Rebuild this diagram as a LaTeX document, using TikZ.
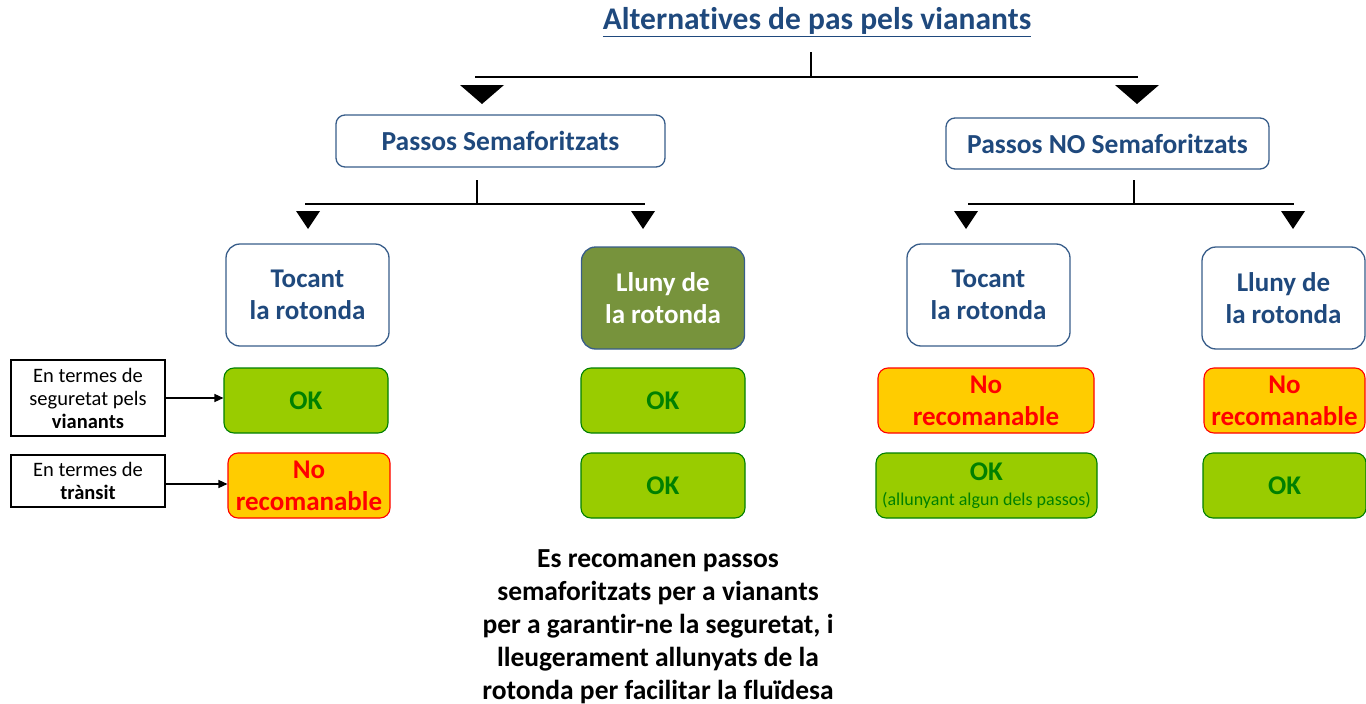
\documentclass[tikz,border=0pt]{standalone}
\usepackage{fontspec}
\setmainfont{Carlito}[Ligatures=NoCommon]
\usetikzlibrary{arrows.meta}
\definecolor{tblue}{HTML}{1F497D}
\definecolor{bord}{HTML}{385D8A}
\definecolor{olivebox}{HTML}{77933C}
\definecolor{okfill}{HTML}{99CC00}
\definecolor{okdark}{HTML}{008000}
\definecolor{nofill}{HTML}{FFCC00}
\definecolor{noborder}{HTML}{FF0000}
\tikzset{
  catbox/.style={draw=bord, line width=1.3pt, fill=white, rounded corners=9pt, inner sep=0pt,
    font=\fontsize{27.5}{32}\selectfont\bfseries, text=tblue, align=center},
  subbox/.style={draw=bord, line width=1.3pt, fill=white, rounded corners=14pt, inner sep=0pt,
    minimum width=163pt, minimum height=102pt,
    font=\fontsize{27}{32}\selectfont\bfseries, text=tblue, align=center},
  okbox/.style={draw=okdark, line width=1.1pt, fill=okfill, rounded corners=10pt, inner sep=0pt,
    minimum height=65pt, font=\fontsize{27}{32}\selectfont\bfseries, text=okdark, align=center},
  nobox/.style={draw=noborder, line width=1.1pt, fill=nofill, rounded corners=10pt, inner sep=0pt,
    minimum height=65pt, font=\fontsize{27}{32}\selectfont\bfseries, text=noborder, align=center},
  labbox/.style={draw=black, line width=1.2pt, fill=white, inner sep=0pt, minimum width=154pt,
    font=\fontsize{20.5}{23}\selectfont, align=center},
  bline/.style={line width=2.6pt, black},
  tri/.style={fill=black},
  arr/.style={line width=1.3pt, -{Triangle[length=9pt,width=8pt]}}
}
\begin{document}
\begin{tikzpicture}[x=1pt,y=-1pt]
\useasboundingbox (0,0) rectangle (1366,704);

% title
\node[font=\fontsize{31.5}{36}\selectfont\bfseries, text=tblue] (title) at (817,22) {\underline{Alternatives de pas pels vianants}};

% top bracket
\coordinate (t0) at (811,52);
\coordinate (t1) at (811,77);
\coordinate (tl) at (475,77);
\coordinate (tr) at (1138,77);
\draw[bline] (t0) -- (t1);
\draw[bline] (tl) -- (tr);
\fill[tri] (460,85) -- (504,85) -- (482,104) -- cycle;
\fill[tri] (1115,85) -- (1159,85) -- (1137,104) -- cycle;

% category boxes
\node[catbox, minimum width=329pt, minimum height=52pt] (ps) at (500.5,141) {Passos Semaforitzats};
\node[catbox, minimum width=323pt, minimum height=51pt] (pns) at (1107.5,143.5) {Passos NO Semaforitzats};

% second-level brackets
\coordinate (l0) at (477,180);
\coordinate (l1) at (477,204);
\coordinate (ll) at (305,204);
\coordinate (lr) at (645,204);
\draw[bline] (l0) -- (l1);
\draw[bline] (ll) -- (lr);
\fill[tri] (296,211) -- (320,211) -- (308,229) -- cycle;
\fill[tri] (631,211) -- (655,211) -- (643,229) -- cycle;

\coordinate (r0) at (1134,180);
\coordinate (r1) at (1134,204);
\coordinate (rl) at (968,204);
\coordinate (rr) at (1294,204);
\draw[bline] (r0) -- (r1);
\draw[bline] (rl) -- (rr);
\fill[tri] (954,211) -- (978,211) -- (966,229) -- cycle;
\fill[tri] (1281,211) -- (1305,211) -- (1293,229) -- cycle;

% sub boxes
\node[subbox] (st1) at (307.5,295) {Tocant\\la rotonda};
\node[subbox, fill=olivebox, text=white] (sl1) at (663,298) {Lluny de\\la rotonda};
\node[subbox] (st2) at (988.5,295) {Tocant\\la rotonda};
\node[subbox] (sl2) at (1283.5,298) {Lluny de\\la rotonda};

% row 1
\node[okbox, minimum width=164pt] (a1) at (306,400.5) {OK};
\node[okbox, minimum width=164pt] (b1) at (663,400.5) {OK};
\node[nobox, minimum width=216pt] (c1) at (986,400.5) {No\\recomanable};
\node[nobox, minimum width=161pt] (d1) at (1284.5,400.5) {No\\recomanable};

% row 2
\node[nobox, minimum width=162pt] (a2) at (309,485.5) {No\\recomanable};
\node[okbox, minimum width=164pt] (b2) at (663,485.5) {OK};
\node[okbox, minimum width=221pt] (c2) at (986.5,485.5) {OK\\[-7pt]{\fontsize{18}{21}\selectfont\mdseries (allunyant algun dels passos)}};
\node[okbox, minimum width=163pt] (d2) at (1284.5,485.5) {OK};

% left labels
\node[labbox, minimum height=76pt] (lab1) at (88,398) {En termes de\\seguretat pels\\\textbf{vianants}};
\node[labbox, minimum height=52pt] (lab2) at (88,481) {En termes de\\\textbf{trànsit}};
\draw[arr] (lab1.east |- 0,398) -- (a1.west |- 0,398);
\draw[arr] (lab2.east |- 0,484) -- (a2.west |- 0,484);

% conclusion
\node[font=\fontsize{27.5}{33}\selectfont\bfseries, align=center] (concl) at (658,627)
 {Es recomanen passos\\semaforitzats per a vianants\\per a garantir-ne la seguretat, i\\lleugerament allunyats de la\\rotonda per facilitar la fluïdesa};
\end{tikzpicture}
\end{document}
